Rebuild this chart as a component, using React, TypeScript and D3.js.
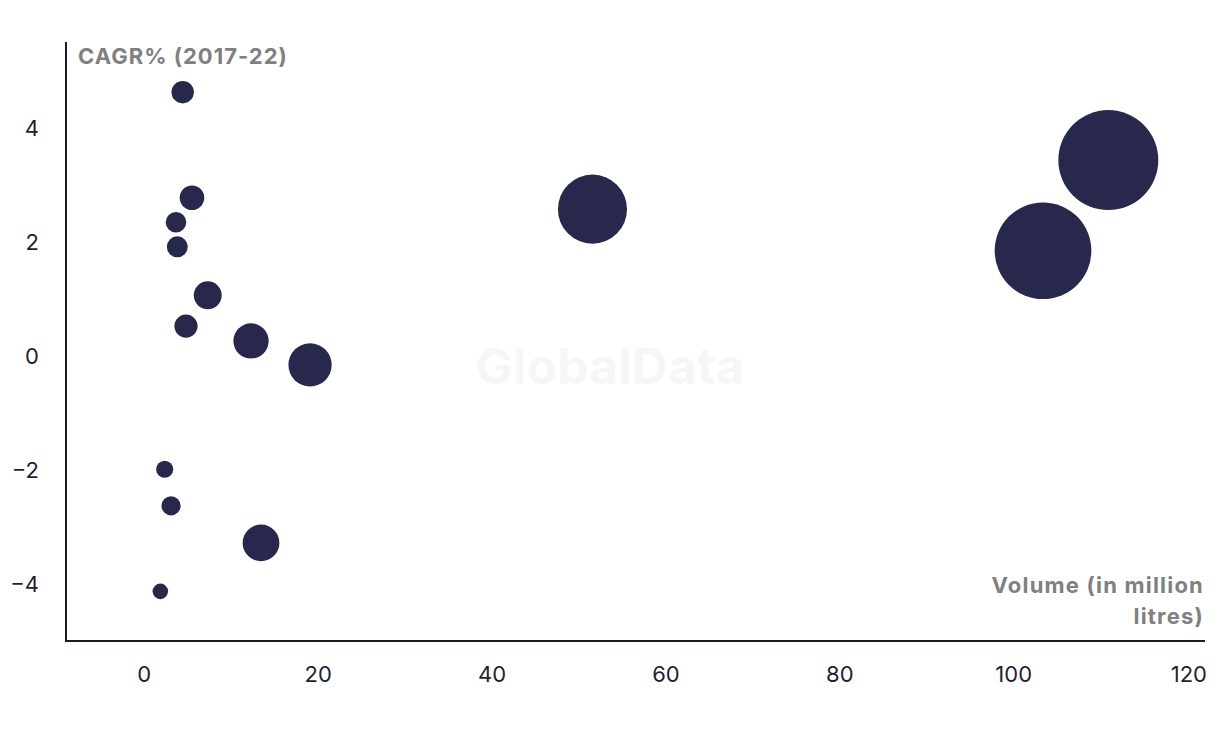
import React from "react";
import * as d3 from "d3";

const volume = [4.42, 5.49, 3.65, 3.80, 7.30, 4.80, 12.28, 19.07, 2.35, 3.08, 13.43, 1.85, 51.55, 110.88, 103.37];
const cagr = [4.62, 2.77, 2.34, 1.91, 1.06, 0.52, 0.26, -0.16, -1.99, -2.63, -3.28, -4.13, 2.57, 3.43, 1.84];
const xTicks = [0, 20, 40, 60, 80, 100, 120];
const yTicks = [-4, -2, 0, 2, 4];

const W = 1220;
const H = 732;
const FONT = "Inter, 'Liberation Sans', Arial, sans-serif";

export default function App() {
  const x = d3.scaleLinear().domain([-9, 122]).range([66, 1205]);
  const y = d3.scaleLinear().domain([-5, 5.5]).range([641, 42]);
  const r = d3.scaleSqrt().domain([0, d3.max(volume) as number]).range([1.5, 50]);
  const fmt = d3.format("d");
  const data = volume.map((v, i) => ({ v, c: cagr[i] }));
  const [x0, x1] = x.range();
  const [y0, y1] = y.range();

  return (
    <svg width={W} height={H} style={{ position: "absolute", left: 0, top: 0, background: "#fff" }} fontFamily={FONT}>
      <text x={610} y={384} textAnchor="middle" fontSize={50} fontWeight={700} fill="#f6f6f6">GlobalData</text>
      {data.map((d, i) => (
        <circle key={i} cx={x(d.v)} cy={y(d.c)} r={r(d.v)} fill="#28284c" />
      ))}
      <line x1={x0} x2={x0} y1={y1} y2={y0 + 1} stroke="#1a1a2e" strokeWidth={2} />
      <line x1={x0} x2={x1} y1={y0} y2={y0} stroke="#1a1a2e" strokeWidth={2} />
      {yTicks.map((t) => (
        <text key={t} x={39} y={y(t) + 8} textAnchor="end" fontSize={22} fill="#1f1f30">{fmt(t)}</text>
      ))}
      {xTicks.map((t, i) => (
        i === xTicks.length - 1 ? (
          <text key={t} x={x1 + 2} y={682} textAnchor="end" fontSize={22} fill="#1f1f30">{fmt(t)}</text>
        ) : (
          <text key={t} x={x(t)} y={682} textAnchor="middle" fontSize={22} fill="#1f1f30">{fmt(t)}</text>
        )
      ))}
      <text x={78} y={64} fontSize={22} fontWeight={700} fill="#808080" letterSpacing={1}>CAGR% (2017-22)</text>
      <text x={1204} y={593} textAnchor="end" fontSize={22} fontWeight={700} fill="#808080" letterSpacing={1.2}>Volume (in million</text>
      <text x={1204} y={624} textAnchor="end" fontSize={22} fontWeight={700} fill="#808080" letterSpacing={1.2}>litres)</text>
    </svg>
  );
}
